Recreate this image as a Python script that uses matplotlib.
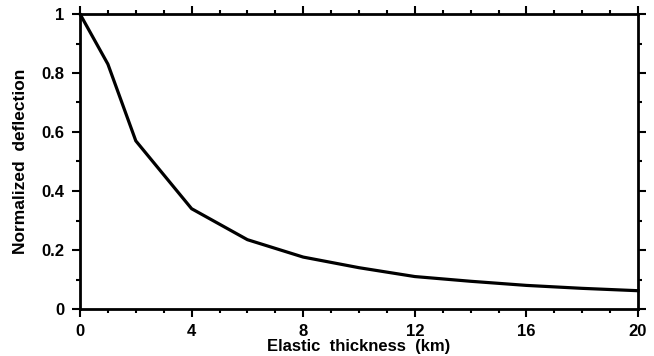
import numpy as np
import matplotlib.pyplot as plt
from matplotlib.ticker import MultipleLocator

# elastic thickness (km) vs normalized deflection
thickness = [0, 1, 2, 4, 6, 8, 10, 12, 14, 16, 18, 20]
deflection = [1.0, 0.83, 0.57, 0.34, 0.235, 0.176, 0.14, 0.11, 0.094, 0.08, 0.07, 0.062]

plt.rcParams['font.family'] = ['Liberation Sans', 'DejaVu Sans']
plt.rcParams['font.weight'] = 'bold'

fig = plt.figure(figsize=(6.54, 3.56), dpi=100)
ax = fig.add_axes([80/654, 47/356, 558/654, 295/356])

ax.plot(thickness, deflection, color='black', lw=2.3, clip_on=False)

ax.set_xlim(0, 20)
ax.set_ylim(0, 1)
ax.xaxis.set_major_locator(MultipleLocator(4))
ax.xaxis.set_minor_locator(MultipleLocator(1))
ax.yaxis.set_minor_locator(MultipleLocator(0.1))
ax.set_yticks([0, 0.2, 0.4, 0.6, 0.8, 1.0])
ax.set_yticklabels(['0', '0.2', '0.4', '0.6', '0.8', '1'])

for s in ax.spines.values():
    s.set_linewidth(2)
ax.tick_params(which='both', direction='out', top=True, right=True, width=1.5, labelsize=12)
ax.tick_params(which='major', length=6, pad=5)
ax.tick_params(which='minor', length=3)

ax.set_xlabel('Elastic  thickness  (km)', fontsize=12, fontweight='bold', labelpad=0)
ax.set_ylabel('Normalized  deflection', fontsize=12.5, fontweight='bold', labelpad=10)

fig.savefig('out.png', dpi=100)
